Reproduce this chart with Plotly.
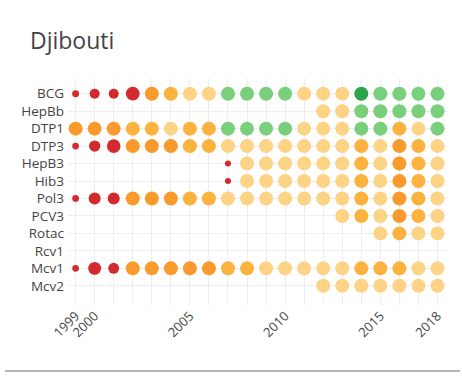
import plotly.graph_objects as go

# Immunization coverage (%) for Djibouti, WHO/UNICEF estimates
years = list(range(1999, 2019))
vaccines = ["BCG", "HepBb", "DTP1", "DTP3", "HepB3", "Hib3",
            "Pol3", "PCV3", "Rotac", "Rcv1", "Mcv1", "Mcv2"]

N = None
bcg   = [18, 32, 32, 49, 62, 74, 84, 85, 90, 92, 92, 92, 85, 85, 86, 97, 93, 93, 93, 93]
hepbb = [N, N, N, N, N, N, N, N, N, N, N, N, N, 82, 84, 90, 91, 92, 92, 92]
dtp1  = [65, 65, 66, 72, 72, 82, 74, 74, 92, 91, 91, 92, 86, 85, 86, 93, 92, 76, 84, 93]
dtp3  = [17, 38, 48, 62, 64, 64, 73, 74, 83, 84, 84, 84, 84, 84, 84, 70, 84, 64, 74, 84]
hepb3 = [N, N, N, N, N, N, N, N, 14, 84, 84, 84, 84, 84, 84, 70, 84, 64, 74, 84]
hib3  = [N, N, N, N, N, N, N, N, 14, 84, 84, 84, 84, 84, 84, 70, 84, 64, 74, 84]
pol3  = [17, 41, 41, 62, 64, 64, 73, 74, 83, 84, 84, 84, 84, 84, 84, 70, 84, 64, 74, 84]
pcv3  = [N, N, N, N, N, N, N, N, N, N, N, N, N, N, 84, 70, 84, 64, 74, 84]
rotac = [N, N, N, N, N, N, N, N, N, N, N, N, N, N, N, N, 84, 74, 84, 84]
rcv1  = [N] * 20
mcv1  = [17, 45, 36, 62, 62, 63, 64, 64, 72, 73, 83, 84, 84, 84, 84, 70, 72, 72, 84, 84]
mcv2  = [N, N, N, N, N, N, N, N, N, N, N, N, N, 82, 84, 84, 84, 84, 84, 84]

coverage = [bcg, hepbb, dtp1, dtp3, hepb3, hib3, pol3, pcv3, rotac, rcv1, mcv1, mcv2]
tick_years = [1999, 2000, 2005, 2010, 2015, 2018]


def band_color(v):
    if v < 50:
        return "#d22a2e"
    if v < 70:
        return "#f89a2c"
    if v < 80:
        return "#fbb23e"
    if v < 90:
        return "#fdd386"
    if v < 95:
        return "#7acf7d"
    return "#2aa54b"


def dot_size(v):
    return min(3 + 0.22 * v, 14)


fig = go.Figure()
for name, row in zip(vaccines, coverage):
    xs = [y for y, v in zip(years, row) if v is not None]
    vs = [v for v in row if v is not None]
    fig.add_trace(go.Scatter(
        x=xs, y=[name] * len(xs), mode="markers",
        marker=dict(size=[dot_size(v) for v in vs],
                    color=[band_color(v) for v in vs],
                    opacity=1, line=dict(width=0)),
        name=name, hovertemplate="%{x}: %{text}%<extra></extra>",
        text=vs, showlegend=False,
    ))

fig.update_layout(
    width=462, height=381,
    margin=dict(l=68, r=15, t=78, b=76),
    paper_bgcolor="white", plot_bgcolor="white",
    font=dict(family="Open Sans", color="#444", size=13),
    title=dict(text="Djibouti", x=30 / 462, xanchor="left",
               xref="container", yref="container",
               y=1 - 41 / 381, yanchor="middle",
               font=dict(size=23, color="#444")),
    xaxis=dict(
        range=[1998.6, 2018.5],
        tickvals=years,
        ticktext=[str(y) if y in tick_years else "" for y in years],
        tickangle=-45, showgrid=True, gridcolor="#eeeeee", gridwidth=1,
        zeroline=False, showline=False, ticks="",
        tickfont=dict(size=13),
    ),
    yaxis=dict(
        type="category", categoryorder="array", categoryarray=vaccines,
        range=[len(vaccines) - 1 + 1.1, -0.9],
        showgrid=True, gridcolor="#eeeeee", gridwidth=1,
        zeroline=False, showline=False, ticks="",
        tickfont=dict(size=13.5), ticklabelstandoff=3,
    ),
    shapes=[dict(type="line", xref="paper", yref="paper",
                 x0=(5 - 68) / 379, x1=(460 - 68) / 379,
                 y0=(305 - 371) / 227, y1=(305 - 371) / 227,
                 line=dict(color="#9a9a9a", width=1.5))],
)

fig.write_html("out.html")
